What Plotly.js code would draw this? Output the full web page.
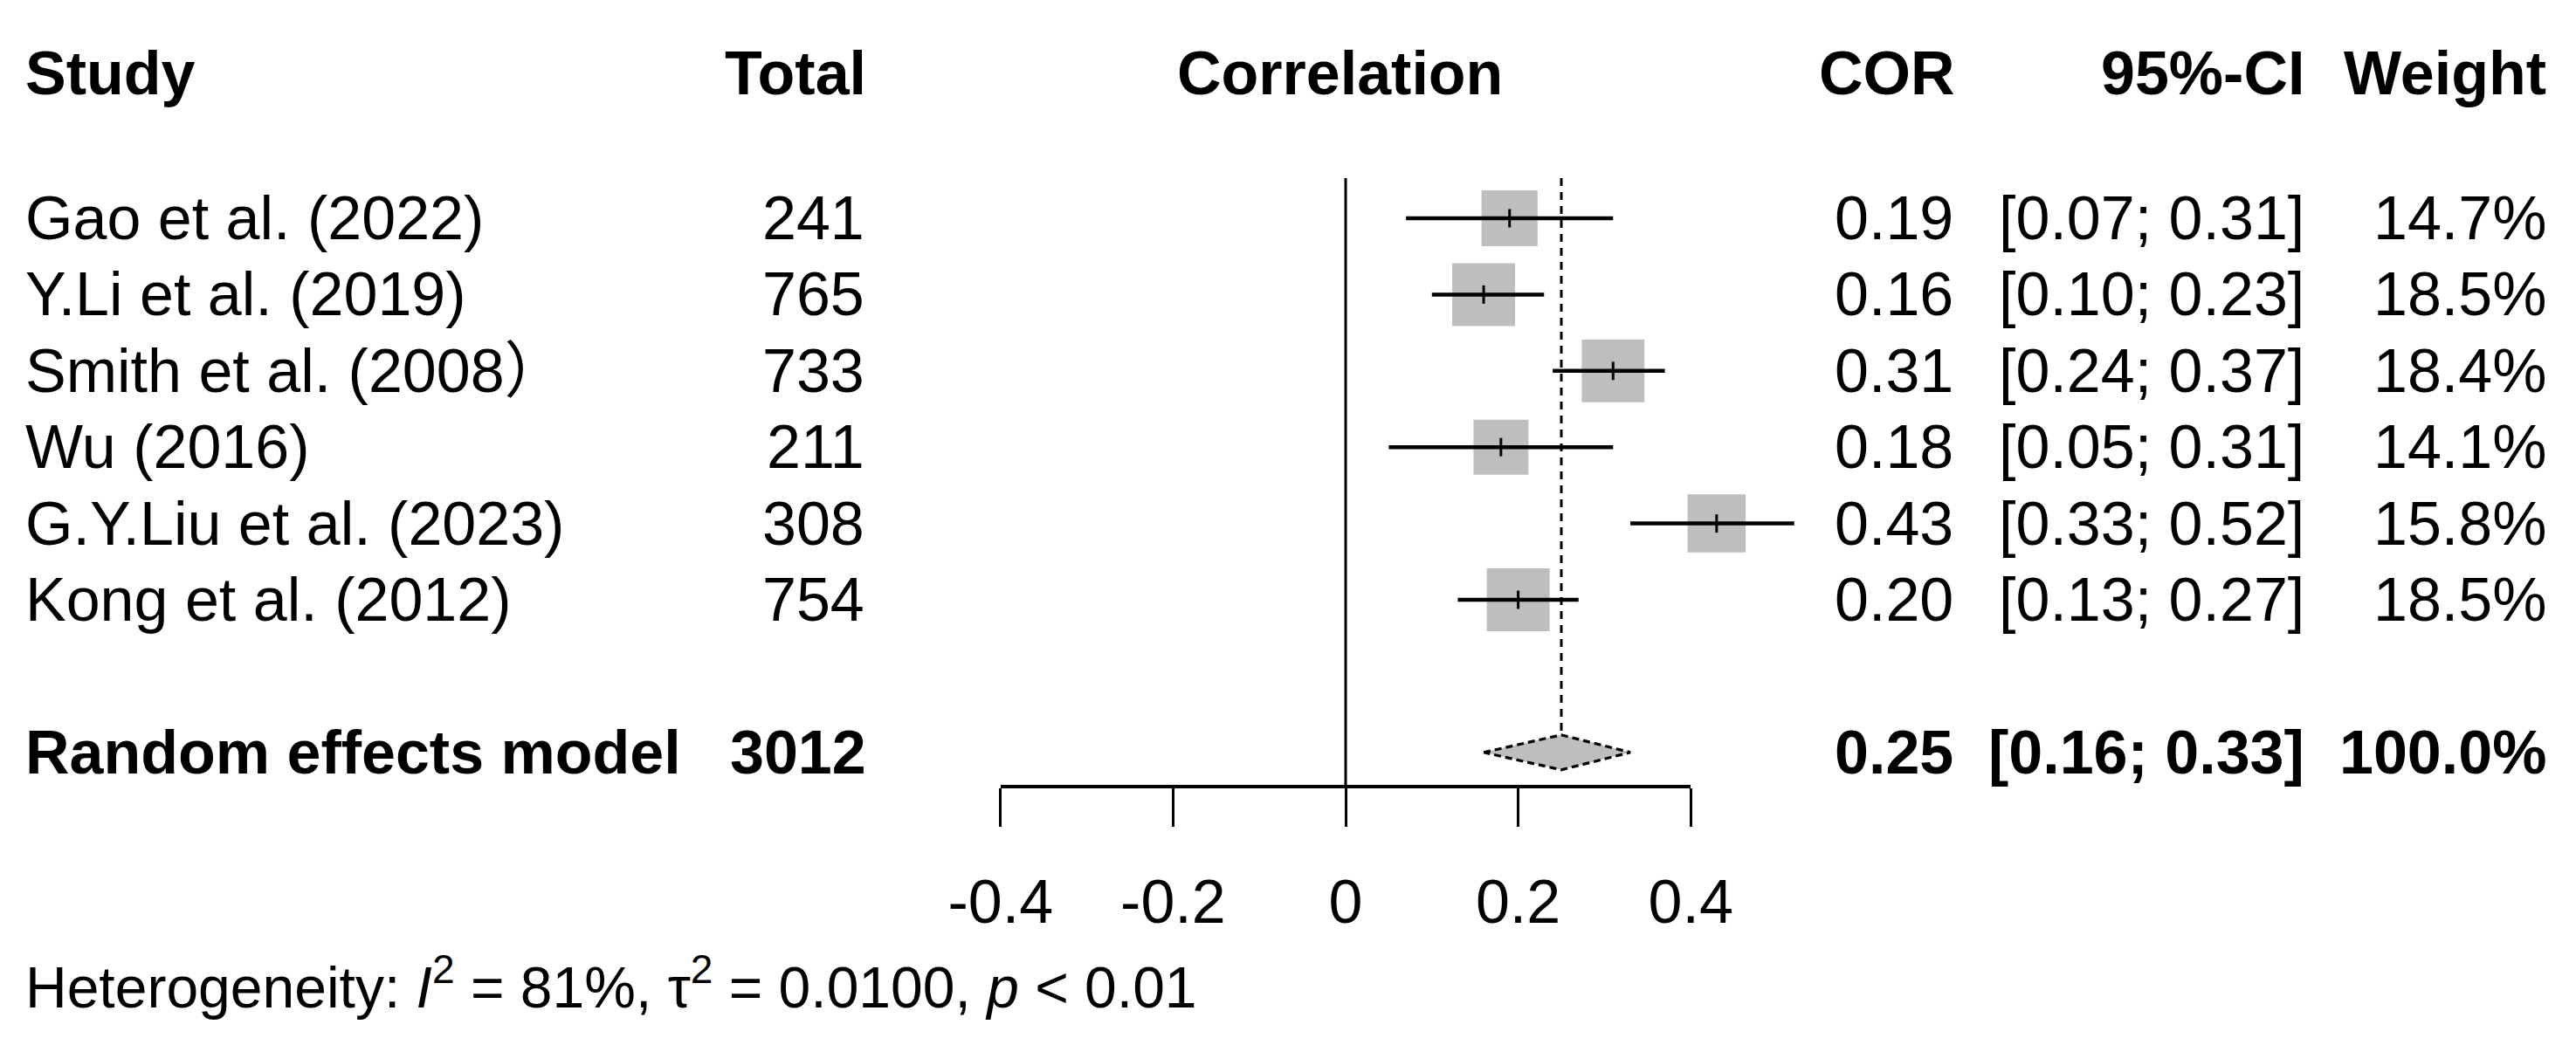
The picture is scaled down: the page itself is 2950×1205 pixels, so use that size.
<!DOCTYPE html>
<html>
<head>
<meta charset="utf-8">
<script src="https://cdn.plot.ly/plotly-3.0.1.min.js"></script>
<style>html,body{margin:0;padding:0;background:#fff;}#chart{width:2950px;height:1205px;}</style>
</head>
<body>
<div id="chart"></div>
<script>
// ---- data ----
const studies = ["Gao et al. (2022)", "Y.Li et al. (2019)", "Smith et al. (2008\uFF09", "Wu (2016)", "G.Y.Liu et al. (2023)", "Kong et al. (2012)"];
const totals = [241, 765, 733, 211, 308, 754];
const cor = [0.19, 0.16, 0.31, 0.18, 0.43, 0.20];
const lower = [0.07, 0.10, 0.24, 0.05, 0.33, 0.13];
const upper = [0.31, 0.23, 0.37, 0.31, 0.52, 0.27];
const weights = [14.7, 18.5, 18.4, 14.1, 15.8, 18.5];
const modelLabel = "Random effects model";
const modelTotal = 3012;
const modelCor = 0.25;
const modelLower = 0.16;
const modelUpper = 0.33;
const modelWeight = 100.0;
const tickVals = [-0.4, -0.2, 0, 0.2, 0.4];
const tickText = ["-0.4", "-0.2", "0", "0.2", "0.4"];
const headers = ["Study", "Total", "Correlation", "COR", "95%-CI", "Weight"];
const heterogeneity = "Heterogeneity: <i>I</i><sup>2</sup> = 81%, \u03C4<sup>2</sup> = 0.0100, <i>p</i> &lt; 0.01";

// ---- layout geometry (pixels) ----
const W = 2950, H = 1205;
const X0PX = 1541, PXU = 988;          // pixel of x=0, pixels per unit
const ROW1PX = 250, ROWPX = 87.4;      // pixel of row 1, row spacing
const AXISPX = 900, REFTOPPX = 204;
const BOXK = 72 / Math.sqrt(18.5);
const DIAHALF = 20 / ROWPX;
const FONT = "Liberation Sans, Arial, Noto Sans CJK KR, sans-serif";
const FS = 70;
const pxToRow = p => 1 + (p - ROW1PX) / ROWPX;
const px = p => p / W;
const rows = studies.map((s, i) => i + 1);
const modelRow = studies.length + 2;
const fmt2 = v => v.toFixed(2);
const ciText = (l, u) => "[" + fmt2(l) + "; " + fmt2(u) + "]";

const traces = [];
// reference lines
traces.push({x: [0, 0], y: [pxToRow(REFTOPPX), pxToRow(AXISPX)], mode: "lines",
  line: {color: "black", width: 3}, hoverinfo: "skip"});
traces.push({x: [modelCor, modelCor], y: [pxToRow(REFTOPPX), modelRow - DIAHALF], mode: "lines",
  line: {color: "black", width: 3, dash: "9px,7px"}, hoverinfo: "skip"});
// boxes
traces.push({x: cor, y: rows, mode: "markers", type: "scatter",
  marker: {symbol: "square", color: "#BEBEBE", opacity: 1, size: weights.map(w => BOXK * Math.sqrt(w)), line: {width: 0}},
  hoverinfo: "skip"});
// CI lines
studies.forEach((s, i) => {
  traces.push({x: [lower[i], upper[i]], y: [rows[i], rows[i]], mode: "lines",
    line: {color: "black", width: 4.5}, hoverinfo: "skip"});
});
// estimate ticks
traces.push({x: cor, y: rows, mode: "markers",
  marker: {symbol: "line-ns", size: 15, line: {color: "black", width: 3}}, hoverinfo: "skip"});
// diamond
traces.push({x: [modelLower, modelCor, modelUpper, modelCor, modelLower],
  y: [modelRow, modelRow - DIAHALF, modelRow, modelRow + DIAHALF, modelRow],
  mode: "lines", fill: "toself", fillcolor: "#BEBEBE",
  line: {color: "black", width: 3.2, dash: "8px,5px"}, hoverinfo: "skip"});
// anchor trace for visible axis
traces.push({x: [tickVals[0], tickVals[tickVals.length - 1]], y: [null, null], xaxis: "x2", yaxis: "y",
  mode: "markers", hoverinfo: "skip"});

const ann = [];
function addText(text, xpx, anchor, y, yref, bold, size) {
  ann.push({text: bold ? "<b>" + text + "</b>" : text, x: px(xpx), xref: "paper", xanchor: anchor,
    y: y, yref: yref, yanchor: "middle", showarrow: false,
    font: {family: FONT, size: size || FS, color: "black"}, borderpad: 0});
}
const headRow = pxToRow(84);
const WCOL = 2917;
addText(headers[0], 28, "left", headRow, "y", true);
addText(headers[1], 993, "right", headRow, "y", true);
addText(headers[2], 1534, "center", headRow, "y", true);
addText(headers[3], 2240, "right", headRow, "y", true);
addText(headers[4], 2640, "right", headRow, "y", true);
addText(headers[5], WCOL, "right", headRow, "y", true);
studies.forEach((s, i) => {
  addText(s, 28, "left", rows[i], "y", false);
  addText(String(totals[i]), 991, "right", rows[i], "y", false);
  addText(fmt2(cor[i]), 2238, "right", rows[i], "y", false);
  addText(ciText(lower[i], upper[i]), 2640, "right", rows[i], "y", false);
  addText(weights[i].toFixed(1) + "%", WCOL, "right", rows[i], "y", false);
});
addText(modelLabel, 28, "left", modelRow, "y", true);
addText(String(modelTotal), 993, "right", modelRow, "y", true);
addText(fmt2(modelCor), 2238, "right", modelRow, "y", true);
addText(ciText(modelLower, modelUpper), 2640, "right", modelRow, "y", true);
addText(modelWeight.toFixed(1) + "%", WCOL, "right", modelRow, "y", true);
addText(heterogeneity, 28, "left", pxToRow(1126), "y", false, 66);

const layout = {
  width: W, height: H,
  margin: {l: 0, r: 0, t: 0, b: 0, pad: 0},
  paper_bgcolor: "white", plot_bgcolor: "rgba(0,0,0,0)",
  showlegend: false,
  font: {family: FONT, size: FS, color: "black"},
  xaxis: {domain: [0, 1], range: [(0 - X0PX) / PXU, (W - X0PX) / PXU], visible: false, fixedrange: true},
  yaxis: {domain: [0, 1], range: [pxToRow(H), pxToRow(0)], visible: false, fixedrange: true},
  xaxis2: {
    domain: [(X0PX + tickVals[0] * PXU) / W, (X0PX + tickVals[tickVals.length - 1] * PXU) / W],
    range: [tickVals[0], tickVals[tickVals.length - 1]],
    anchor: "free", position: 1 - AXISPX / H,
    tickmode: "array", tickvals: tickVals, ticktext: tickText,
    ticks: "outside", ticklen: 44, tickwidth: 3, tickcolor: "black",
    showline: true, linewidth: 3.5, linecolor: "black",
    showgrid: false, zeroline: false, ticklabelstandoff: 26,
    tickfont: {family: FONT, size: FS, color: "black"}, fixedrange: true
  },
  annotations: ann
};
Plotly.newPlot("chart", traces, layout, {staticPlot: true, displayModeBar: false});
</script>
</body>
</html>
